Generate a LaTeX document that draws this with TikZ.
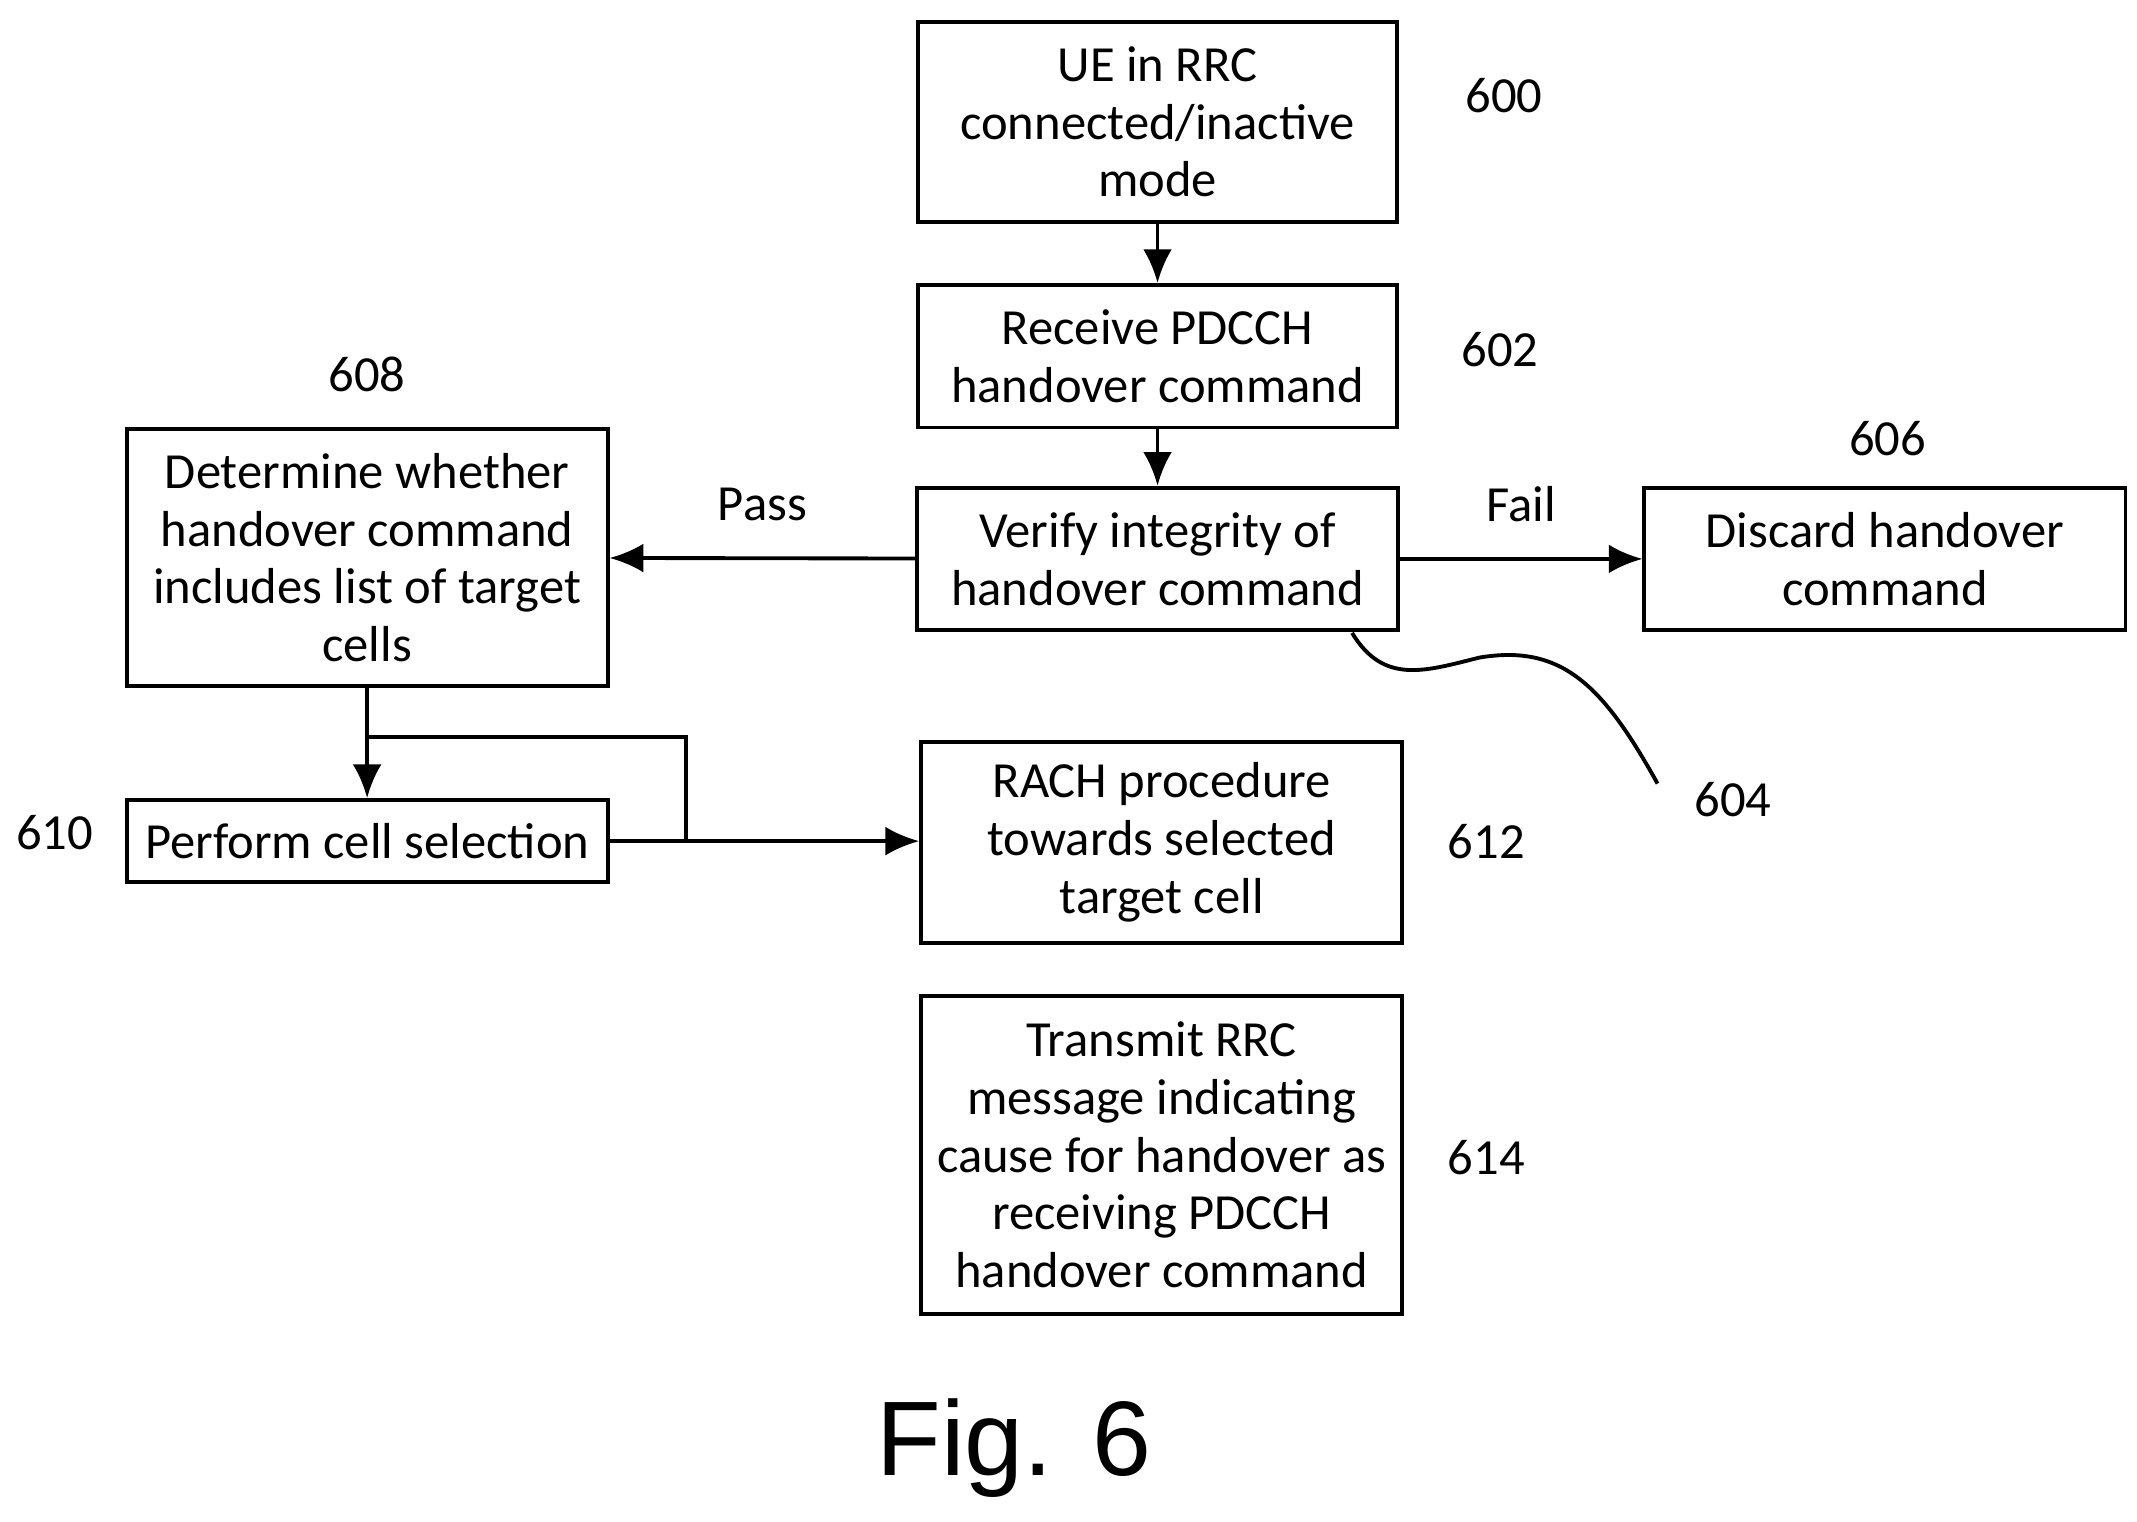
\documentclass[tikz,border=0pt]{standalone}
\usepackage{fontspec}
\setmainfont{Carlito}
\newfontfamily\figfont{Liberation Sans}
\usetikzlibrary{arrows.meta,positioning}
\tikzset{
  stepbox/.style={draw,line width=0.8pt,align=center,inner sep=0pt,font=\fontsize{10.5}{12}\selectfont},
  num/.style={font=\fontsize{10.5}{12}\selectfont},
  flow/.style={line width=0.8pt,-{Latex[length=7pt,width=6pt]}}
}
\begin{document}
\begin{tikzpicture}[x=0.01cm,y=-0.01cm]
        \useasboundingbox (0,0) rectangle (1560,1111);

        \node[stepbox,minimum width=3.5cm,minimum height=1.46cm] (s600) at (845,89) {UE in RRC\\connected/inactive\\mode};
        \node[stepbox,minimum width=3.5cm,minimum height=1.04cm] (s602) at (845,260) {Receive PDCCH\\handover command};
        \node[stepbox,minimum width=3.51cm,minimum height=1.04cm] (s604) at (845,408) {Verify integrity of\\handover command};
        \node[stepbox,minimum width=3.51cm,minimum height=1.04cm] (s606) at (1376,408) {Discard handover\\command};
        \node[stepbox,minimum width=3.51cm,minimum height=1.88cm] (s608) at (268,407) {Determine whether\\handover command\\includes list of target\\cells};
        \node[stepbox,minimum width=3.51cm,minimum height=0.6cm] (s610) at (268,614) {Perform cell selection};
        \node[stepbox,minimum width=3.51cm,minimum height=1.47cm] (s612) at (848,615) {RACH procedure\\towards selected\\target cell};
        \node[stepbox,minimum width=3.51cm,minimum height=2.32cm] (s614) at (848,843) {Transmit RRC\\message indicating\\cause for handover as\\receiving PDCCH\\handover command};

        \node[num] (n600) at (1098,70) {600};
        \node[num] (n602) at (1095,255) {602};
        \node[num] (n604) at (1265,584) {604};
        \node[num] (n606) at (1378,320) {606};
        \node[num] (n608) at (268,273) {608};
        \node[num] (n610) at (40,608) {610};
        \node[num] (n612) at (1085,614) {612};
        \node[num] (n614) at (1085,845) {614};

        \draw[flow] (s600) -- (s602);
        \draw[flow] (s602) -- (s604);
        \draw[flow] (s604) -- node[num,above=4pt] {Pass} (s608);
        \draw[flow] (s604) -- node[num,above=4pt] {Fail} (s606);
        \draw[flow] (s608) -- (s610);
        \draw[flow] (s610) -- (s612.west |- s610);
        \coordinate (b1) at (268,538);
        \coordinate (b2) at (501,538);
        \draw[line width=0.8pt] (b1) -- (b2) -- (b2 |- s610);
        \draw[line width=0.8pt] (987,462) .. controls (1010,500) and (1040,490) .. (1080,480) .. controls (1140,470) and (1170,500) .. (1210,572);

        \node[font=\figfont\fontsize{22}{26}\selectfont] (fig) at (740,1057) {Fig. 6};
      \end{tikzpicture}
\end{document}
